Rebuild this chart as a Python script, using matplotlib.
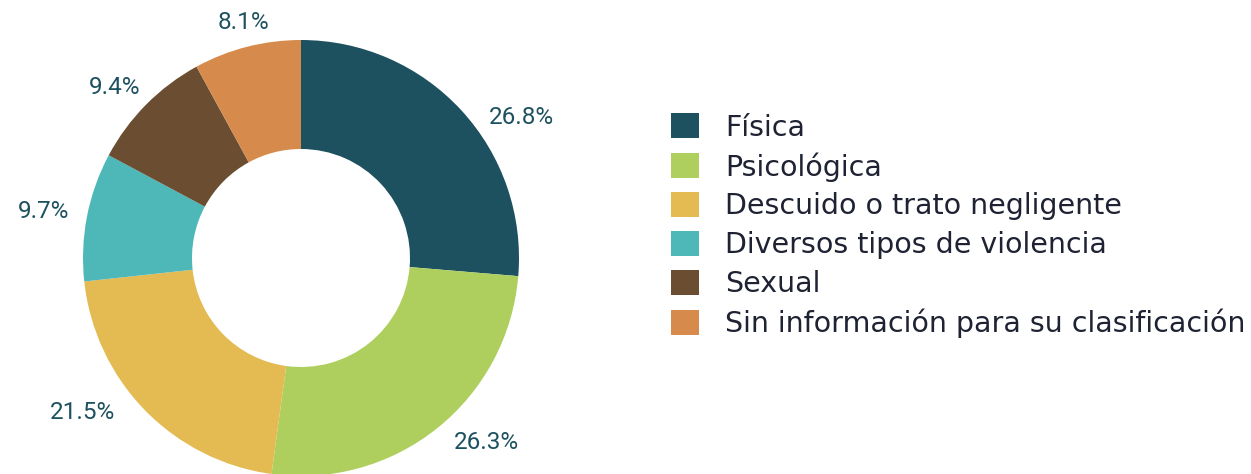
import matplotlib.pyplot as plt
import matplotlib.patches as mpatches
import numpy as np

categories = ['Física', 'Psicológica', 'Descuido o trato negligente',
              'Diversos tipos de violencia', 'Sexual',
              'Sin información para su clasificación']
values = [26.8, 26.3, 21.5, 9.7, 9.4, 8.1]
colors = ['#1D5160', '#AECF5E', '#E3BB52', '#4EB8B8', '#6B4E31', '#D68B4C']

# label placement tweaks (angle shift in degrees, distance in radii)
label_shift = [-10.2, 6.5, -8.9, 0.7, 2.3, -0.6]
label_dist = [1.2, 1.2, 1.23, 1.2, 1.16, 1.11]

W, H = 1251, 474
fig = plt.figure(figsize=(W / 100, H / 100), dpi=100)

# donut placement in pixels
cx, cy, R = 301, 474 - 258, 218
ax = fig.add_axes([(cx - 1.4 * R) / W, (cy - 1.2 * R) / H, 2.8 * R / W, 2.4 * R / H])
wedges, _ = ax.pie(values, colors=colors, startangle=90, counterclock=False,
                   radius=1, wedgeprops=dict(width=0.5, linewidth=0))
ax.set_xlim(-1.4, 1.4)
ax.set_ylim(-1.2, 1.2)
ax.set_aspect('auto')
ax.axis('off')

for w, v, s, d in zip(wedges, values, label_shift, label_dist):
    mid = np.deg2rad((w.theta1 + w.theta2) / 2 + s)
    ax.text(d * np.cos(mid), d * np.sin(mid), f'{v}%', ha='center', va='center',
            fontsize=17.5, color='#1D5160', family='Roboto')

handles = [mpatches.Patch(facecolor=c, edgecolor='none') for c in colors]
leg = fig.legend(handles, categories, loc='upper left', bbox_to_anchor=(657 / W, 1 - 99 / H),
                 frameon=False, prop={'family': 'DejaVu Sans', 'size': 20.5}, handlelength=0.98,
                 handleheight=0.98, handletextpad=0.9, labelspacing=0.37, borderpad=0)
for t in leg.get_texts():
    t.set_color('#1E2233')

fig.savefig('out.png', dpi=100)
